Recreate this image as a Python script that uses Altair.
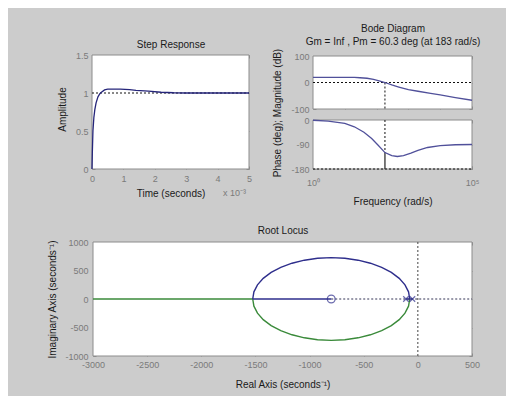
import altair as alt
import pandas as pd

# ---------------- data ----------------
# Step response (time in ms, shown with "x 10^-3" multiplier)
step_t_ms = [0, 0.01, 0.03, 0.06, 0.09, 0.13, 0.19, 0.25, 0.3, 0.4, 0.5, 0.7, 0.9, 1.2, 1.4, 1.8, 2.2, 2.6, 3.0, 4.0, 5.0]
step_amp = [0, 0.2, 0.5, 0.68, 0.78, 0.87, 0.95, 0.99, 1.01, 1.04, 1.05, 1.05, 1.05, 1.045, 1.035, 1.025, 1.01, 1.003, 1.0, 1.0, 1.0]
step_final = [1.0]
step_x_ticks = [0, 1, 2, 3, 4, 5]
step_y_ticks = [0, 0.5, 1, 1.5]

# Bode magnitude / phase
mag_w = [1, 3, 10, 20, 30, 50, 80, 120, 183, 300, 500, 1000, 2000, 5000, 10000, 30000, 100000]
mag_db = [19, 19, 19, 19, 18, 16, 12, 6, 0, -9, -17, -27, -33, -41, -47, -57, -67]
phase_w = [1, 3, 10, 20, 40, 70, 110, 183, 300, 450, 700, 1200, 2000, 4000, 10000, 30000, 100000]
phase_deg = [-1, -4, -12, -25, -45, -68, -92, -119.7, -131, -134, -131, -122, -112, -101, -94, -91, -90]
pm_w = [183]
pm_phase = [-119.7]
freq_ticks = [1, 100000]
freq_tick_labels = ["10⁰", "10⁵"]
decade_ticks = [1, 10, 100, 1000, 10000, 100000]
mag_ticks = [-100, 0, 100]
phase_ticks = [-180, -90, 0]

# Root locus
rl_arc_re = [-75, -86, -119, -172, -245, -334, -438, -552, -674, -800, -926, -1048, -1162, -1266, -1355, -1428, -1481, -1514, -1525]
rl_arc_im_upper = [0, 126, 248, 362, 466, 555, 628, 681, 714, 725, 714, 681, 628, 555, 466, 362, 248, 126, 0]
rl_arc_im_lower = [0, -126, -248, -362, -466, -555, -628, -681, -714, -725, -714, -681, -628, -555, -466, -362, -248, -126, 0]
rl_blue_axis_re = [-1525, -800]
rl_green_axis_re = [-3000, -1525]
rl_pole_seg_re = [-110, -50]
rl_poles = [-110, -50]
rl_zeros = [-800]
rl_x_ticks = [-3000, -2500, -2000, -1500, -1000, -500, 0, 500]
rl_y_ticks = [-1000, -500, 0, 500, 1000]

# ---------------- styling ----------------
F = "Liberation Sans"
LAB = "#7a7a7a"
TIT = "#1a1a1a"
TICK = "#8c8c8c"
BORDER = "#8c8c8c"
DOT = "#111111"
STEP_C = "#25257a"
BODE_C = "#50509a"
BLUE = "#2e2e8c"
GREEN = "#3a8a3a"
PLAIN = "'' + datum.value"


def sc(**kw):
    d = dict(nice=False, zero=False)
    d.update(kw)
    return alt.Scale(**d)


def axis(orient, offset, **kw):
    base = dict(orient=orient, offset=offset, grid=False, domain=False,
                tickColor=TICK, tickSize=3, tickWidth=1,
                labelColor=LAB, labelFont=F, labelFontSize=9, labelFlush=False,
                labelOverlap=False, labelExpr=PLAIN,
                titleFont=F, titleFontSize=10, titleColor=TIT, titleFontWeight="normal",
                titleAlign="center", titleBaseline="middle", title="")
    base.update(kw)
    return alt.Axis(**base)


def tick_axis(orient, offset, values, **kw):
    # inside tick marks only (no labels)
    return axis(orient, offset, values=values, labels=False, **kw)


def title_axis(orient, offset, title, **kw):
    return axis(orient, offset, title=title, labels=False, ticks=False, **kw)


layers = []

# ---------------- Step response panel ----------------
sx = sc(domain=[step_x_ticks[0], step_x_ticks[-1]], range=[0, 157])
sy = sc(domain=[step_y_ticks[0], step_y_ticks[-1]], range=[114, 0])

step_bg = pd.DataFrame({"x0": [step_x_ticks[0]], "x1": [step_x_ticks[-1]],
                        "y0": [step_y_ticks[0]], "y1": [step_y_ticks[-1]]})
layers.append(alt.Chart(step_bg).mark_rect(fill="white", stroke=BORDER, strokeWidth=1).encode(
    x=alt.X("x0:Q", scale=sx, axis=axis("bottom", -190, values=step_x_ticks, labelPadding=5.5,
                                        title="Time (seconds)", titleY=27)),
    x2="x1:Q",
    y=alt.Y("y0:Q", scale=sy, axis=axis("left", -3, values=step_y_ticks, labelPadding=4,
                                        title="Amplitude", titleX=-33, titleY=54, titleAngle=270)),
    y2="y1:Q"))

step_ref = pd.DataFrame({"x0": [step_x_ticks[0]], "x1": [step_x_ticks[-1]], "y": step_final})
layers.append(alt.Chart(step_ref).mark_rule(color=DOT, strokeDash=[2, 2], strokeWidth=1).encode(
    x=alt.X("x0:Q", scale=sx, axis=axis("top", -3, values=step_x_ticks, labels=False,
                                        title="Step Response", titleY=-14)),
    x2="x1:Q",
    y=alt.Y("y:Q", scale=sy, axis=tick_axis("right", -226, step_y_ticks))))

step_df = pd.DataFrame({"t": step_t_ms, "a": step_amp})
layers.append(alt.Chart(step_df).mark_line(color=STEP_C, strokeWidth=1.3).encode(
    x=alt.X("t:Q", scale=sx, axis=title_axis("bottom", -190, "x 10⁻³", titleX=142, titleY=26,
                                              titleFontSize=9, titleColor=LAB)),
    y=alt.Y("a:Q", scale=sy, axis=None)))

# ---------------- Bode panels ----------------
bx = alt.Scale(type="log", domain=[freq_ticks[0], freq_ticks[-1]], range=[221, 380], nice=False)
my = sc(domain=[mag_ticks[0], mag_ticks[-1]], range=[54, 1])
py = sc(domain=[phase_ticks[0], phase_ticks[-1]], range=[114, 65])

freq_label_expr = " : ".join(
    [f"datum.value == {v} ? '{l}'" for v, l in zip(freq_ticks[:-1], freq_tick_labels[:-1])]
    + [f"'{freq_tick_labels[-1]}'"])

mag_bg = pd.DataFrame({"x0": [freq_ticks[0]], "x1": [freq_ticks[-1]],
                       "y0": [mag_ticks[0]], "y1": [mag_ticks[-1]]})
layers.append(alt.Chart(mag_bg).mark_rect(fill="white", stroke=BORDER, strokeWidth=1).encode(
    x=alt.X("x0:Q", scale=bx, axis=axis(
        "top", -4, values=decade_ticks, labels=False,
        title=["Bode Diagram", "Gm = Inf ,  Pm = 60.3 deg (at 183 rad/s)"],
        titleY=-30.5, titleLineHeight=13.4)),
    x2="x1:Q",
    y=alt.Y("y0:Q", scale=my, axis=axis("left", -224, values=mag_ticks, labelPadding=4,
                                        title="Phase (deg); Magnitude (dB)", titleX=-39, titleY=57.5,
                                        titleAngle=270)),
    y2="y1:Q"))

mag_zero = pd.DataFrame({"x0": [freq_ticks[0]], "x1": [freq_ticks[-1]], "y": [0]})
layers.append(alt.Chart(mag_zero).mark_rule(color=DOT, strokeDash=[2, 2], strokeWidth=1).encode(
    x=alt.X("x0:Q", scale=bx, axis=tick_axis("bottom", -250, decade_ticks)), x2="x1:Q",
    y=alt.Y("y:Q", scale=my, axis=tick_axis("right", -3, mag_ticks))))

mag_pm = pd.DataFrame({"x": pm_w, "y0": [0], "y1": [mag_ticks[0]]})
layers.append(alt.Chart(mag_pm).mark_rule(color=DOT, strokeDash=[2, 2], strokeWidth=1).encode(
    x=alt.X("x:Q", scale=bx, axis=None),
    y=alt.Y("y0:Q", scale=my, axis=None), y2="y1:Q"))

mag_df = pd.DataFrame({"w": mag_w, "m": mag_db})
layers.append(alt.Chart(mag_df).mark_line(color=BODE_C, strokeWidth=1.3).encode(
    x=alt.X("w:Q", scale=bx, axis=None),
    y=alt.Y("m:Q", scale=my, axis=None)))

ph_bg = pd.DataFrame({"x0": [freq_ticks[0]], "x1": [freq_ticks[-1]],
                      "y0": [phase_ticks[0]], "y1": [phase_ticks[-1]]})
layers.append(alt.Chart(ph_bg).mark_rect(fill="white", stroke=BORDER, strokeWidth=1).encode(
    x=alt.X("x0:Q", scale=bx, axis=axis("bottom", -190, values=freq_ticks, labelPadding=9,
                                        labelExpr=freq_label_expr,
                                        title="Frequency  (rad/s)", titleY=35)),
    x2="x1:Q",
    y=alt.Y("y0:Q", scale=py, axis=axis("left", -224, values=phase_ticks, labelPadding=4)),
    y2="y1:Q"))

ph_180 = pd.DataFrame({"x0": [freq_ticks[0]], "x1": [freq_ticks[-1]], "y": [phase_ticks[0]]})
layers.append(alt.Chart(ph_180).mark_rule(color=DOT, strokeDash=[2, 2], strokeWidth=1.2).encode(
    x=alt.X("x0:Q", scale=bx, axis=tick_axis("top", -68, decade_ticks)), x2="x1:Q",
    y=alt.Y("y:Q", scale=py, axis=tick_axis("right", -3, phase_ticks))))

ph_pm_dot = pd.DataFrame({"x": pm_w, "y0": [phase_ticks[-1]], "y1": pm_phase})
layers.append(alt.Chart(ph_pm_dot).mark_rule(color=DOT, strokeDash=[2, 2], strokeWidth=1).encode(
    x=alt.X("x:Q", scale=bx, axis=tick_axis("bottom", -190, decade_ticks)),
    y=alt.Y("y0:Q", scale=py, axis=None), y2="y1:Q"))

ph_pm_solid = pd.DataFrame({"x": pm_w, "y0": pm_phase, "y1": [phase_ticks[0]]})
layers.append(alt.Chart(ph_pm_solid).mark_rule(color="#333333", strokeWidth=1.3).encode(
    x=alt.X("x:Q", scale=bx, axis=None),
    y=alt.Y("y0:Q", scale=py, axis=None), y2="y1:Q"))

ph_df = pd.DataFrame({"w": phase_w, "p": phase_deg})
layers.append(alt.Chart(ph_df).mark_line(color=BODE_C, strokeWidth=1.3).encode(
    x=alt.X("w:Q", scale=bx, axis=None),
    y=alt.Y("p:Q", scale=py, axis=None)))

# ---------------- Root locus panel ----------------
rx = sc(domain=[rl_x_ticks[0], rl_x_ticks[-1]], range=[1, 380])
ry = sc(domain=[rl_y_ticks[0], rl_y_ticks[-1]], range=[301, 187])

rl_bg = pd.DataFrame({"x0": [rl_x_ticks[0]], "x1": [rl_x_ticks[-1]],
                      "y0": [rl_y_ticks[0]], "y1": [rl_y_ticks[-1]]})
layers.append(alt.Chart(rl_bg).mark_rect(fill="white", stroke=BORDER, strokeWidth=1).encode(
    x=alt.X("x0:Q", scale=rx, axis=axis("bottom", -3, values=rl_x_ticks, labelPadding=4.5,
                                        title="Real Axis (seconds⁻¹)", titleY=31)),
    x2="x1:Q",
    y=alt.Y("y0:Q", scale=ry, axis=axis("left", -4, values=rl_y_ticks, labelPadding=5,
                                        title="Imaginary Axis (seconds⁻¹)", titleX=-44, titleY=244,
                                        titleAngle=270)),
    y2="y1:Q"))

# dotted real axis: visible part runs from the zero to the right edge
rl_h = pd.DataFrame({"x0": rl_zeros, "x1": [rl_x_ticks[-1]], "y": [0]})
layers.append(alt.Chart(rl_h).mark_rule(color="#333355", strokeDash=[2, 2], strokeWidth=1).encode(
    x=alt.X("x0:Q", scale=rx, axis=axis("top", -190, values=rl_x_ticks, labels=False,
                                        title="Root Locus", titleY=-15)),
    x2="x1:Q",
    y=alt.Y("y:Q", scale=ry, axis=tick_axis("right", -3, rl_y_ticks))))

rl_v = pd.DataFrame({"x": [0], "y0": [rl_y_ticks[0]], "y1": [rl_y_ticks[-1]]})
layers.append(alt.Chart(rl_v).mark_rule(color="#444444", strokeDash=[2, 2], strokeWidth=1).encode(
    x=alt.X("x:Q", scale=rx, axis=None),
    y=alt.Y("y0:Q", scale=ry, axis=None), y2="y1:Q"))

green_rows = []
for k, (re_, im_) in enumerate(zip(rl_arc_re, rl_arc_im_lower)):
    green_rows.append({"seg": "arc", "k": k, "re": re_, "im": im_})
for k, re_ in enumerate(rl_green_axis_re):
    green_rows.append({"seg": "axis", "k": k, "re": re_, "im": 0})
green_df = pd.DataFrame(green_rows)
layers.append(alt.Chart(green_df).mark_line(color=GREEN, strokeWidth=1.4).encode(
    x=alt.X("re:Q", scale=rx, axis=None),
    y=alt.Y("im:Q", scale=ry, axis=None),
    detail="seg:N", order="k:Q"))

blue_rows = []
for k, (re_, im_) in enumerate(zip(rl_arc_re, rl_arc_im_upper)):
    blue_rows.append({"seg": "arc", "k": k, "re": re_, "im": im_})
for k, re_ in enumerate(rl_blue_axis_re):
    blue_rows.append({"seg": "axis", "k": k, "re": re_, "im": 0})
for k, re_ in enumerate(rl_pole_seg_re):
    blue_rows.append({"seg": "poles", "k": k, "re": re_, "im": 0})
blue_df = pd.DataFrame(blue_rows)
layers.append(alt.Chart(blue_df).mark_line(color=BLUE, strokeWidth=1.4).encode(
    x=alt.X("re:Q", scale=rx, axis=None),
    y=alt.Y("im:Q", scale=ry, axis=None),
    detail="seg:N", order="k:Q"))

zero_df = pd.DataFrame({"re": rl_zeros, "im": [0] * len(rl_zeros)})
layers.append(alt.Chart(zero_df).mark_point(shape="circle", filled=False, color=BLUE,
                                            size=60, strokeWidth=1.3).encode(
    x=alt.X("re:Q", scale=rx, axis=None),
    y=alt.Y("im:Q", scale=ry, axis=None)))

pole_df = pd.DataFrame({"re": rl_poles, "im": [0] * len(rl_poles)})
layers.append(alt.Chart(pole_df).mark_point(shape="M -1 -1 L 1 1 M -1 1 L 1 -1", filled=False,
                                            color=BLUE, size=30, strokeWidth=1.2).encode(
    x=alt.X("re:Q", scale=rx, axis=None),
    y=alt.Y("im:Q", scale=ry, axis=None)))

chart = alt.layer(*layers).resolve_scale(
    x="independent", y="independent"
).resolve_axis(
    x="independent", y="independent"
).properties(
    width=380, height=301,
    autosize=alt.AutoSizeParams(type="none"),
    padding={"left": 84, "top": 47, "right": 34, "bottom": 40},
    background="#cccccc",
).configure_view(strokeWidth=0).configure_axis(grid=False)

chart.save("out.html", embed_options={"renderer": "svg", "actions": False})
